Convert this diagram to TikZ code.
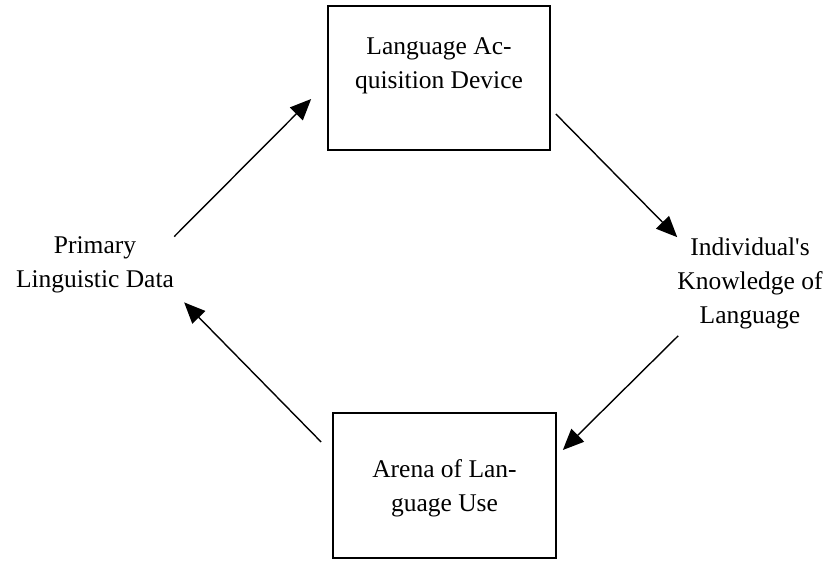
\documentclass[tikz,border=0pt]{standalone}
\usepackage{fontspec}
\setmainfont{Liberation Serif}
\usetikzlibrary{arrows.meta}

\begin{document}
\begin{tikzpicture}[x=1pt, y=-1pt,
        box/.style={draw, line width=1.7pt, minimum width=222pt, minimum height=144pt, inner sep=0pt},
        txt/.style={align=center, inner sep=0pt, font=\fontsize{25.5}{34}\selectfont},
        arr/.style={line width=1.4pt, -{Triangle[length=21pt, width=18pt]}}]
    \useasboundingbox (0,0) rectangle (833,561);
    % the two boxes
    \node[box] (lad) at (439,78) {};
    \node[txt] (lad-txt) at ([yshift=12pt]lad.center) {Language Ac-\\quisition Device};
    \node[box, minimum width=223pt, minimum height=145pt] (alu) at (444.5,485.5) {};
    \node[txt] (alu-txt) at ([yshift=-2.5pt]alu.center) {Arena of Lan-\\guage Use};

    % the two free texts
    \node[txt] (pld) at (95,265) {Primary\\Linguistic Data};
    \node[txt] (ikl) at (750,283) {Individual\textquotesingle s\\Knowledge of\\Language};

    % the cycle
    \draw[arr] (pld.north east) -- ([xshift=-16pt, yshift=-21pt]lad.west);
    \draw[arr] ([xshift=5pt, yshift=-36pt]lad.east) -- (ikl.north west);
    \draw[arr] ([xshift=1pt, yshift=-7pt]ikl.south west) -- ([xshift=6pt, yshift=35.5pt]alu.east);
    \draw[arr] ([xshift=-11pt, yshift=43.5pt]alu.west) -- ([xshift=10pt, yshift=-9pt]pld.south east);
\end{tikzpicture}
\end{document}
